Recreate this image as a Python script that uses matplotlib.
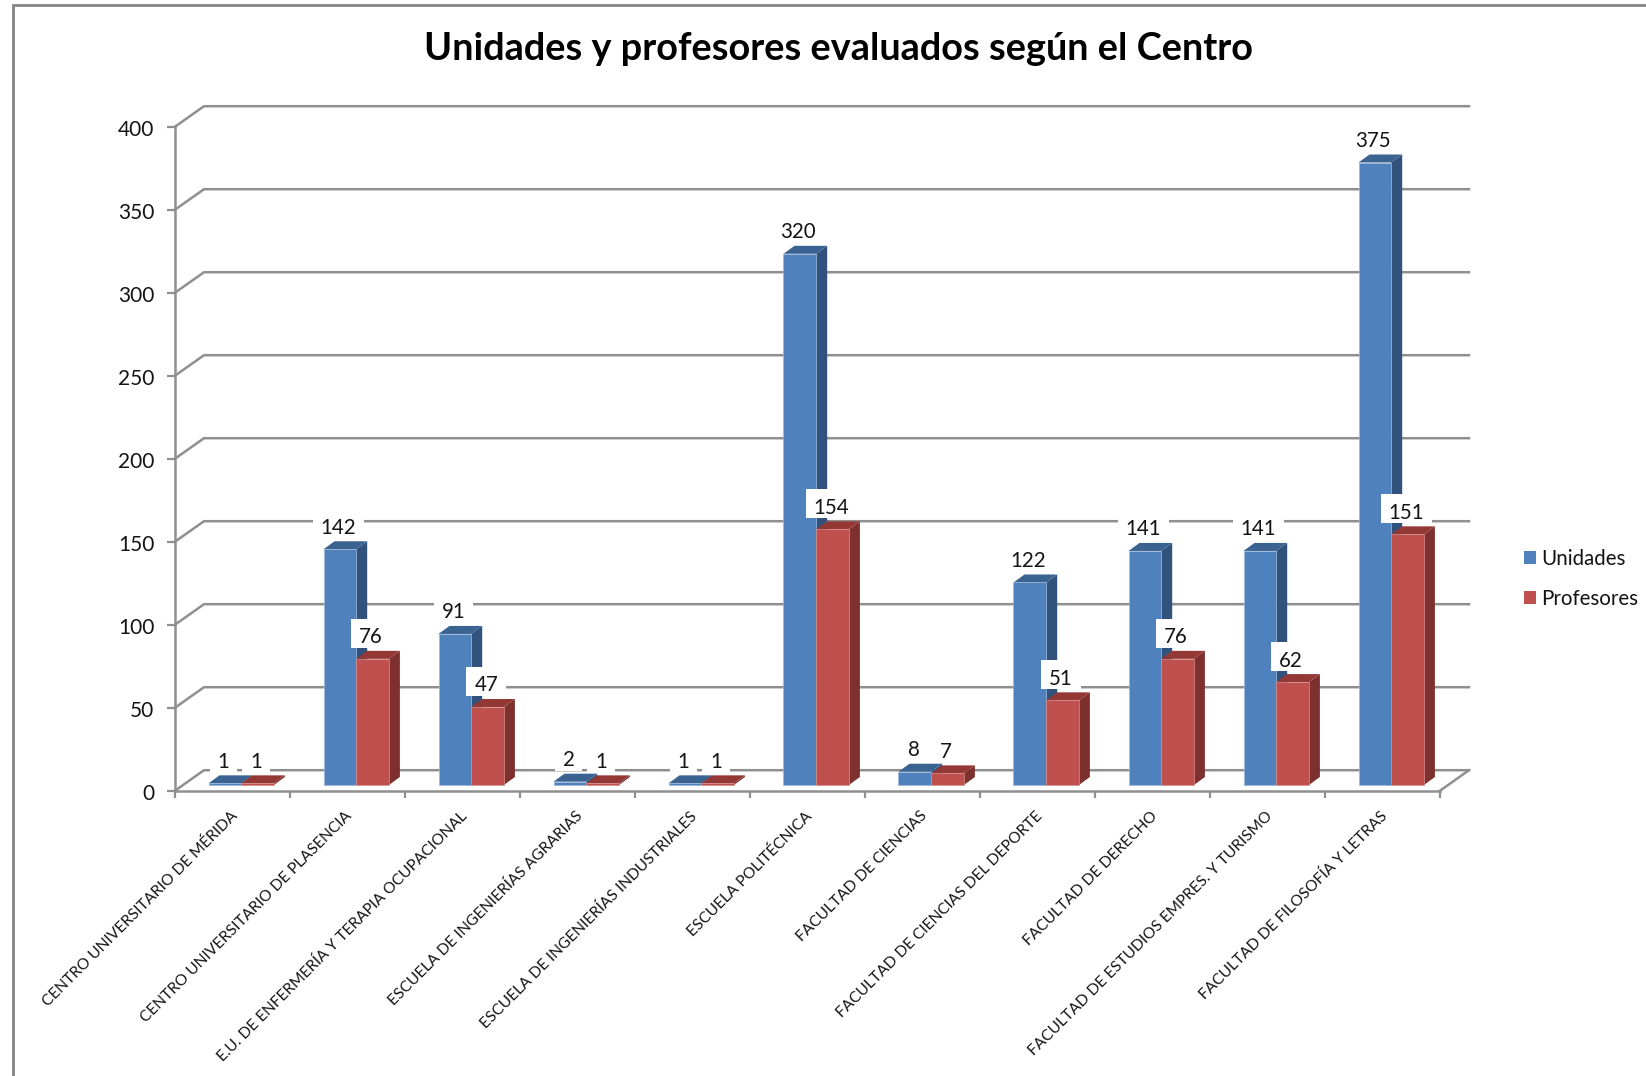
import numpy as np
import matplotlib
matplotlib.use("Agg")
import matplotlib.pyplot as plt
from matplotlib.patches import Patch, Polygon, Rectangle
from matplotlib.path import Path
from matplotlib.transforms import ScaledTranslation

plt.rcParams['font.family'] = ['Lato', 'DejaVu Sans']

categories = [
    "CENTRO UNIVERSITARIO DE MÉRIDA",
    "CENTRO UNIVERSITARIO DE PLASENCIA",
    "E.U. DE ENFERMERÍA Y TERAPIA OCUPACIONAL",
    "ESCUELA DE INGENIERÍAS AGRARIAS",
    "ESCUELA DE INGENIERÍAS INDUSTRIALES",
    "ESCUELA POLITÉCNICA",
    "FACULTAD DE CIENCIAS",
    "FACULTAD DE CIENCIAS DEL DEPORTE",
    "FACULTAD DE DERECHO",
    "FACULTAD DE ESTUDIOS EMPRES. Y TURISMO",
    "FACULTAD DE FILOSOFÍA Y LETRAS",
]
unidades = [1, 142, 91, 2, 1, 320, 8, 122, 141, 141, 375]
profesores = [1, 76, 47, 1, 1, 154, 7, 51, 76, 62, 151]
y_ticks = [0, 50, 100, 150, 200, 250, 300, 350, 400]

W, H = 1646, 1076
GRID = "#8f8f8f"
TEXT = "#141414"
fig = plt.figure(figsize=(W / 100, H / 100), dpi=100, facecolor="white")

# frame of the chart area, running off the right and bottom of the image
fig.add_artist(Rectangle((13 / W, -0.02), 1.1, 1.02 - 5 / H, transform=fig.transFigure,
                         fill=False, edgecolor="#858585", linewidth=2.0))

L, R, T, B = 175, 1440, 126.7, 790.7
ax = fig.add_axes([L / W, 1 - B / H, (R - L) / W, (B - T) / H])
ax.set_xlim(0, len(categories))
ax.set_ylim(0, 400)
ax.patch.set_alpha(0)

px_x = (R - L) / len(categories)   # pixels per category
px_y = (B - T) / 400               # pixels per value unit


def dx(p):
    return p / px_x


def dy(p):
    return p / px_y


# back wall gridlines and the diagonals that lead to them
wall_x, wall_y = dx(29), dy(20.5)
for v in y_ticks:
    ax.plot([0, wall_x, len(categories) + wall_x], [v, v + wall_y, v + wall_y],
            color=GRID, lw=1.8, clip_on=False, zorder=1, solid_joinstyle="miter")
ax.plot([len(categories), len(categories) + wall_x], [0, wall_y],
        color=GRID, lw=1.8, clip_on=False, zorder=1)

# bars
x = np.arange(len(categories)) + 0.5 + dx(8.7)
width = dx(32.7)
floor = dy(5.7)
depth_x, depth_y = dx(11), dy(8)


def bars3d(xs, vals, front, side, top, label, z):
    ax.bar(xs, vals, width, bottom=floor, color=front, edgecolor="#9db8d9" if z == 3 else "#d68f8d",
           linewidth=0.5, label=label, zorder=z + 0.2)
    for xi, v in zip(xs, vals):
        x0, x1 = xi - width / 2, xi + width / 2
        y0, y1 = floor, floor + v
        ax.add_patch(Polygon([(x1, y0), (x1 + depth_x, y0 + depth_y), (x1 + depth_x, y1 + depth_y), (x1, y1)],
                             closed=True, facecolor=side, edgecolor="none", zorder=z, clip_on=False))
        ax.add_patch(Polygon([(x0, y1), (x1, y1), (x1 + depth_x, y1 + depth_y), (x0 + depth_x, y1 + depth_y)],
                             closed=True, facecolor=top, edgecolor="none", zorder=z + 0.1, clip_on=False))


bars3d(x - width / 2, unidades, "#4f81bd", "#30527c", "#3a6391", "Unidades", 3)
bars3d(x + width / 2, profesores, "#c0504d", "#7d302e", "#943836", "Profesores", 4)


def label_box(x0, y0, w, h, size):
    # white box around a data label: little room below, so the bar's top stays visible
    sx, top, bottom = 0.38 * size, 0.42 * size, 0.02 * size
    xa, xb, ya, yb = x0 - sx, x0 + w + sx, y0 - bottom, y0 + h + top
    return Path([(xa, ya), (xb, ya), (xb, yb), (xa, yb), (xa, ya)], closed=True)


# data labels on white boxes
for xs, vals in ((x - width / 2, unidades), (x + width / 2, profesores)):
    for xi, v in zip(xs, vals):
        ax.annotate(str(v), (xi, v + floor), xytext=(-1, 15.5), textcoords="offset points",
                    ha="center", va="center", fontsize=14.8, color=TEXT, zorder=6,
                    annotation_clip=False,
                    bbox=dict(boxstyle=label_box, facecolor="white", edgecolor="none"))

# axes
for s in ("top", "right"):
    ax.spines[s].set_visible(False)
for s in ("left", "bottom"):
    ax.spines[s].set_color(GRID)
    ax.spines[s].set_linewidth(1.8)
ax.set_yticks(y_ticks)
ax.set_yticklabels([str(v) for v in y_ticks], fontsize=15, color=TEXT)
ax.tick_params(axis="y", direction="out", length=5.5, width=1.6, color=GRID, pad=9.5)
for lab in ax.get_yticklabels():
    lab.set_transform(lab.get_transform() + ScaledTranslation(0, -1 / 100, fig.dpi_scale_trans))
ax.set_xticks(np.arange(len(categories) + 1))
ax.set_xticklabels([])
ax.tick_params(axis="x", which="major", direction="out", length=5, width=1.6, color=GRID)
ax.set_xticks(np.arange(len(categories)) + 0.5, minor=True)
ax.set_xticklabels(categories, minor=True, rotation=45, ha="right", va="top",
                   rotation_mode="anchor", fontsize=11.15, color=TEXT)
ax.tick_params(axis="x", which="minor", length=0, pad=13)
for lab in ax.get_xticklabels(minor=True):
    lab.set_transform(lab.get_transform() + ScaledTranslation(-2.5 / 100, 0, fig.dpi_scale_trans))

fig.text(838 / W, 1 - 49.5 / H, "Unidades y profesores evaluados según el Centro",
         ha="center", va="center", fontsize=27.3, fontweight="bold", color="black")

handles = [Patch(facecolor="#4f81bd", label="Unidades"), Patch(facecolor="#c0504d", label="Profesores")]
fig.legend(handles=handles, loc="center left", bbox_to_anchor=(1518 / W, 1 - 579 / H), frameon=False,
           fontsize=14.8, handlelength=0.58, handleheight=0.58, handletextpad=0.24, labelspacing=0.97,
           labelcolor=TEXT, borderpad=0.3, borderaxespad=0)

fig.savefig("out.png", dpi=100, facecolor="white")
